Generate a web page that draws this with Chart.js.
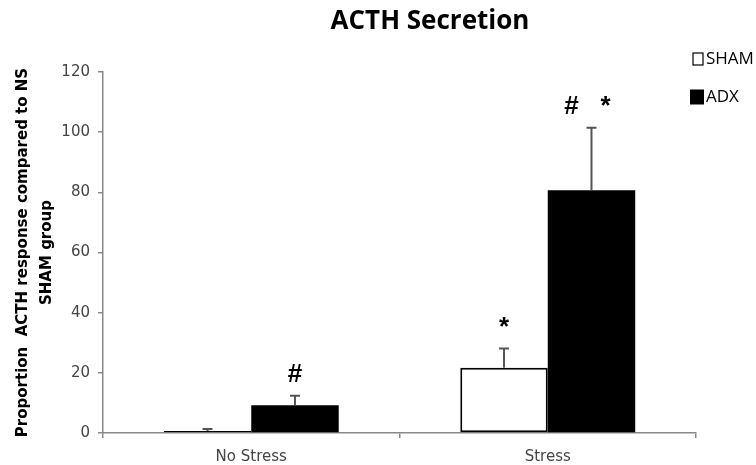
<!DOCTYPE html>
<html>
<head>
<meta charset="utf-8">
<script src="https://cdn.jsdelivr.net/npm/chart.js@4/dist/chart.umd.min.js"></script>
<style>
  html, body { margin: 0; padding: 0; background: #fff; }
  #wrap { width: 756px; height: 465px; position: relative; }
</style>
</head>
<body>
<div id="wrap"><canvas id="c" width="756" height="465"></canvas></div>
<script>
// ---- data ----
const chartTitle = 'ACTH Secretion';
const categories = ['No Stress', 'Stress'];
const seriesNames = ['SHAM', 'ADX'];
const shamMeans = [0.7, 21.7];
const shamErrors = [0.6, 6.4];
const adxMeans = [9.2, 80.7];
const adxErrors = [3.2, 20.8];
const shamMarks = ['', '*'];
const adxMarks = ['#', '#   *'];
const yTicks = [0, 20, 40, 60, 80, 100, 120];
const yTitle = ['Proportion  ACTH response compared to NS', 'SHAM group'];

const errorBarPlugin = {
  id: 'errorBars',
  afterDatasetsDraw(chart) {
    const ctx = chart.ctx;
    const y = chart.scales.y;
    chart.data.datasets.forEach((ds, di) => {
      const meta = chart.getDatasetMeta(di);
      meta.data.forEach((bar, i) => {
        const top = y.getPixelForValue(ds.data[i] + ds.errors[i]);
        const base = y.getPixelForValue(ds.data[i]);
        ctx.save();
        ctx.strokeStyle = '#555';
        ctx.lineWidth = 2;
        ctx.beginPath();
        ctx.moveTo(bar.x, base);
        ctx.lineTo(bar.x, top);
        ctx.moveTo(bar.x - 5, top);
        ctx.lineTo(bar.x + 5, top);
        ctx.stroke();
        // significance marks
        const mark = ds.marks[i];
        if (mark) {
          ctx.fillStyle = '#000';
          ctx.font = 'bold 26px "Liberation Sans"';
          ctx.textAlign = 'center';
          ctx.textBaseline = 'middle';
          ctx.fillText(mark, bar.x - (mark.length > 1 ? 4 : 0), top - 21);
        }
        ctx.restore();
      });
    });
  }
};

const titleLegendPlugin = {
  id: 'titleLegend',
  afterDraw(chart) {
    const ctx = chart.ctx;
    ctx.save();
    ctx.fillStyle = '#000';
    ctx.font = 'bold 26px "Open Sans"';
    ctx.textAlign = 'center';
    ctx.textBaseline = 'middle';
    ctx.fillText(chartTitle, 430, 22);
    // legend
    const items = chart.data.datasets;
    const ys = [59, 97];
    items.forEach((ds, i) => {
      const yy = ys[i];
      if (i === 0) {
        ctx.fillStyle = '#fff';
        ctx.strokeStyle = '#000';
        ctx.lineWidth = 1.2;
        ctx.fillRect(693, yy - 6, 10, 12);
        ctx.strokeRect(693, yy - 6, 10, 12);
      } else {
        ctx.fillStyle = '#000';
        ctx.fillRect(690, yy - 7.5, 14, 15);
      }
      ctx.fillStyle = '#000';
      ctx.font = '17px "Open Sans"';
      ctx.textAlign = 'left';
      ctx.fillText(ds.label, 706, yy);
    });
    ctx.restore();
  }
};

new Chart(document.getElementById('c'), {
  type: 'bar',
  data: {
    labels: categories,
    datasets: [
      { label: seriesNames[0], data: shamMeans, errors: shamErrors, marks: shamMarks,
        backgroundColor: '#fff', borderColor: '#000', borderWidth: 2, borderSkipped: false },
      { label: seriesNames[1], data: adxMeans, errors: adxErrors, marks: adxMarks,
        backgroundColor: '#000', borderColor: '#000', borderWidth: 0 }
    ]
  },
  options: {
    responsive: false,
    animation: false,
    devicePixelRatio: 1,
    layout: { padding: { top: 72, right: 60, left: 0, bottom: 0 } },
    plugins: { legend: { display: false }, title: { display: false }, tooltip: { enabled: false } },
    datasets: { bar: { categoryPercentage: 0.59, barPercentage: 1.0 } },
    scales: {
      x: {
        grid: { display: true, drawOnChartArea: false, drawTicks: true, tickLength: 5, color: '#888', lineWidth: 1.5 },
        border: { color: '#888', width: 1.5 },
        ticks: { color: '#444', font: { family: 'DejaVu Sans', size: 15 }, padding: 10 },
        afterFit(scale) { scale.height = 32; }
      },
      y: {
        min: 0, max: 120,
        afterBuildTicks(scale) { scale.ticks = yTicks.map(v => ({ value: v })); },
        grid: { display: true, drawOnChartArea: false, drawTicks: true, tickLength: 5, color: '#888', lineWidth: 1.5 },
        border: { color: '#888', width: 1.5 },
        ticks: { color: '#444', font: { family: 'DejaVu Sans', size: 15 }, padding: 8 },
        title: { display: true, text: yTitle, color: '#000', font: { family: 'DejaVu Sans', size: 15, weight: 'bold', lineHeight: 1.6 }, padding: { top: 11, bottom: 0 } },
        afterFit(scale) { scale.width = 103; }
      }
    }
  },
  plugins: [errorBarPlugin, titleLegendPlugin]
});
</script>
</body>
</html>
